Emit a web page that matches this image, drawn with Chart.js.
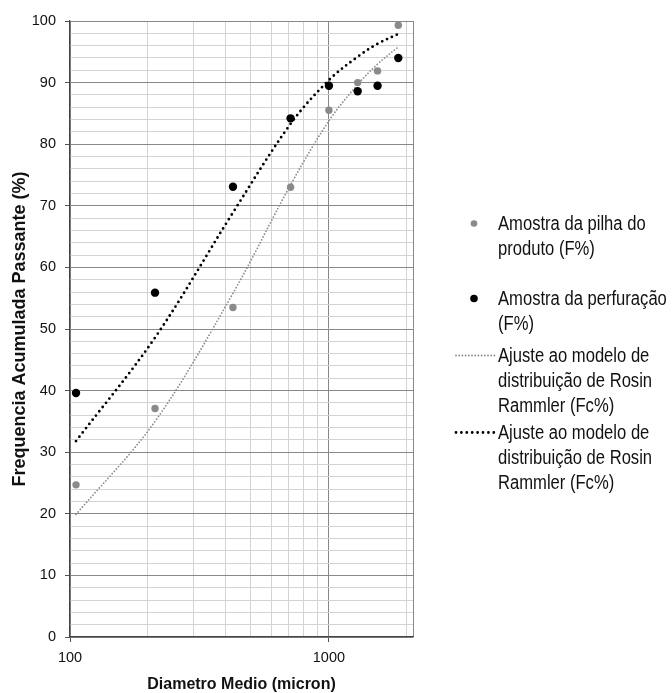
<!DOCTYPE html>
<html>
<head>
<meta charset="utf-8">
<script src="https://cdn.jsdelivr.net/npm/chart.js@4.4.1/dist/chart.umd.min.js"></script>
<style>
  html, body { margin: 0; padding: 0; background: #fff; }
  #wrap { position: relative; width: 672px; height: 693px; overflow: hidden; }
  #legend {
    position: absolute; left: 0; top: 0; width: 672px; height: 693px;
    font-family: 'Liberation Sans', Arial, sans-serif;
    font-size: 20px; line-height: 25px; color: #111;
  }
  .item { position: absolute; left: 453px; display: flex; }
  .item svg { flex: none; width: 45px; height: 25px; }
  .item span { white-space: nowrap; display: inline-block; transform: scaleX(0.83); transform-origin: 0 0; }
</style>
</head>
<body>
<div id="wrap">
  <canvas id="chart" width="672" height="693"></canvas>
  <div id="legend"></div>
</div>
<script>
// diametro medio (micron) das amostras
const diametro = [105.5, 213, 426, 711, 1000, 1291, 1541, 1853];

// frequencia acumulada passante (%)
const pilhaF = [24.7, 37.1, 53.5, 73.0, 85.5, 90.0, 91.9, 99.3];
const perfuracaoF = [39.6, 55.9, 73.1, 84.2, 89.5, 88.6, 89.5, 94.0];

// ajuste Rosin Rammler (Fc%)
const pilhaFc = [19.9, 35.0, 55.8, 73.4, 83.8, 89.7, 93.0, 95.8];
const perfuracaoFc = [31.8, 48.6, 68.9, 83.3, 90.4, 94.2, 96.3, 97.9];

// ticks do eixo x (log) e rotulos visiveis
const xTicks = [100, 200, 300, 400, 500, 600, 700, 800, 900, 1000, 2000, 2112];
const xLabels = [100, 1000];
const xMajor = [100, 1000, 2112];

const legendLabels = [
  ['Amostra da pilha do', 'produto (F%)'],
  ['Amostra da perfuração', '(F%)'],
  ['Ajuste ao modelo de', 'distribuição de Rosin', 'Rammler (Fc%)'],
  ['Ajuste ao modelo de', 'distribuição de Rosin', 'Rammler (Fc%)']
];

const FONT = "'Liberation Sans', Arial, sans-serif";
const GRAY = '#8a8a8a';
const MAJOR = '#888888';
const MINOR = '#d3d3d3';

const toXY = (ys) => diametro.map((x, i) => ({ x: x, y: ys[i] }));

Chart.defaults.font.family = FONT;
Chart.defaults.color = '#111';

const datasets = [
  { label: 'Amostra da pilha do produto (F%)', data: toXY(pilhaF),
    pointRadius: 3.7, pointBackgroundColor: GRAY, pointBorderWidth: 0, showLine: false },
  { label: 'Amostra da perfuração (F%)', data: toXY(perfuracaoF),
    pointRadius: 4.2, pointBackgroundColor: '#000', pointBorderWidth: 0, showLine: false },
  { label: 'Ajuste Rosin Rammler (Fc%)', data: toXY(pilhaFc),
    showLine: true, pointRadius: 0, borderColor: GRAY, borderWidth: 1.8,
    borderDash: [0, 3.2], borderCapStyle: 'round', tension: 0.35 },
  { label: 'Ajuste Rosin Rammler (Fc%)', data: toXY(perfuracaoFc),
    showLine: true, pointRadius: 0, borderColor: '#000', borderWidth: 2.8,
    borderDash: [0, 5.4], borderCapStyle: 'round', tension: 0.35 }
];

const chart = new Chart(document.getElementById('chart').getContext('2d'), {
  type: 'scatter',
  data: { datasets: datasets },
  options: {
    responsive: false,
    animation: false,
    layout: { padding: { left: 0, right: 259, top: 21, bottom: 0 } },
    plugins: { legend: { display: false }, tooltip: { enabled: false } },
    scales: {
      x: {
        type: 'logarithmic',
        min: 100,
        max: 2112,
        afterBuildTicks: (scale) => { scale.ticks = xTicks.map(v => ({ value: v })); },
        afterFit: (scale) => { scale.height = 56; },
        ticks: {
          autoSkip: false, maxRotation: 0, padding: 7,
          font: { size: 14.5 },
          callback: (v) => xLabels.includes(v) ? String(v) : ''
        },
        grid: {
          color: (c) => xMajor.includes(c.tick && c.tick.value) ? MAJOR : MINOR,
          tickColor: (c) => xLabels.includes(c.tick && c.tick.value) ? '#555' : 'rgba(0,0,0,0)',
          tickLength: 5
        },
        border: { color: '#444', width: 1.2 },
        title: {
          display: true, text: 'Diametro Medio (micron)',
          font: { size: 16, weight: 'bold', lineHeight: 1 },
          padding: { top: 0, bottom: 0 }, color: '#111'
        }
      },
      y: {
        min: 0,
        max: 100,
        afterFit: (scale) => { scale.width = 70; },
        ticks: {
          stepSize: 2, autoSkip: false, padding: 9,
          font: { size: 14.5 },
          callback: (v) => v % 10 === 0 ? String(v) : ''
        },
        grid: {
          color: (c) => c.tick && c.tick.value % 10 === 0 ? MAJOR : MINOR,
          tickColor: (c) => c.tick && c.tick.value % 10 === 0 ? '#555' : 'rgba(0,0,0,0)',
          tickLength: 5
        },
        border: { color: '#444', width: 1.2 },
        title: {
          display: true, text: 'Frequencia Acumulada Passante (%)',
          font: { size: 18, weight: 'bold', lineHeight: 1 },
          padding: { top: 11, bottom: 0 }, color: '#111'
        }
      }
    }
  }
});

// legenda em HTML (texto em varias linhas, como no original)
const legendTops = [211, 286, 343, 420];
const legend = document.getElementById('legend');
chart.data.datasets.forEach((ds, i) => {
  const item = document.createElement('div');
  item.className = 'item';
  item.style.top = legendTops[i] + 'px';
  let marker;
  if (ds.showLine) {
    const dash = ds.borderDash.join(' ');
    marker = `<line x1="3" y1="12.5" x2="42" y2="12.5" stroke="${ds.borderColor}" stroke-width="${ds.borderWidth}" stroke-dasharray="${dash}" stroke-linecap="round"/>`;
  } else {
    marker = `<circle cx="21" cy="12.5" r="${ds.pointRadius - 0.4}" fill="${ds.pointBackgroundColor}"/>`;
  }
  item.innerHTML = `<svg viewBox="0 0 45 25">${marker}</svg><span>${legendLabels[i].join('<br>')}</span>`;
  legend.appendChild(item);
});
</script>
</body>
</html>
